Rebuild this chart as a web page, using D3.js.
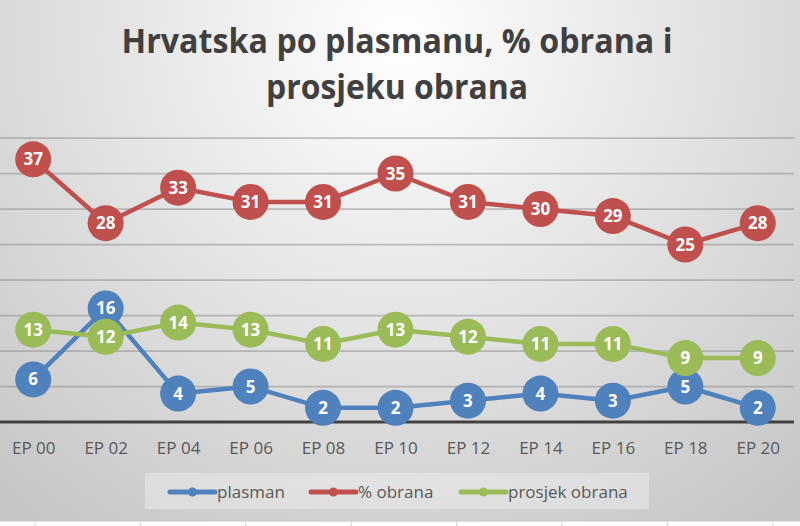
<!DOCTYPE html>
<html>
<head>
<meta charset="utf-8">
<script src="https://cdn.jsdelivr.net/npm/d3@7"></script>
<style>
	body { margin: 0; background: #fff; }
	svg text { font-family: "Open Sans", sans-serif; }
</style>
</head>
<body>
<svg id="chart" width="800" height="526"></svg>
<script>
// data
let categories = ['EP 00', 'EP 02', 'EP 04', 'EP 06', 'EP 08', 'EP 10', 'EP 12', 'EP 14', 'EP 16', 'EP 18', 'EP 20'];
let plasman = [6, 16, 4, 5, 2, 2, 3, 4, 3, 5, 2];
let obrana = [37, 28, 33, 31, 31, 35, 31, 30, 29, 25, 28];
let prosjekObrana = [13, 12, 14, 13, 11, 13, 12, 11, 11, 9, 9];
let seriesNames = ['plasman', '% obrana', 'prosjek obrana'];
let yTicks = [0, 5, 10, 15, 20, 25, 30, 35, 40];
let titleLines = ['Hrvatska po plasmanu, % obrana i', 'prosjeku obrana'];

let colors = ['#4f81bd', '#c0504d', '#9bbb59'];
let series = [plasman, obrana, prosjekObrana].map((vals, i) => ({
	name: seriesNames[i],
	color: colors[i],
	values: vals
}));

let W = 800, H = 526;
let svg = d3.select('svg#chart');

// background (excel style gradient)
let defs = svg.append('defs');
let grad = defs.append('radialGradient')
	.attr('id', 'bg')
	.attr('gradientUnits', 'userSpaceOnUse')
	.attr('cx', 400).attr('cy', 40).attr('r', 600);
grad.append('stop').attr('offset', '0%').attr('stop-color', '#ffffff');
grad.append('stop').attr('offset', '100%').attr('stop-color', '#c6c6c6');

svg.append('rect')
	.attr('width', W).attr('height', 521)
	.attr('fill', 'url(#bg)');

// spreadsheet strip below the chart
svg.append('rect').attr('y', 521).attr('width', W).attr('height', 5).attr('fill', '#ffffff');
svg.append('line').attr('x1', 0).attr('x2', W).attr('y1', 521).attr('y2', 521)
	.attr('stroke', '#c8c8c8').attr('stroke-width', 1);
svg.append('g').selectAll('line')
	.data(d3.range(35, W, 105.4))
	.join('line')
	.attr('x1', d => d).attr('x2', d => d)
	.attr('y1', 522).attr('y2', H)
	.attr('stroke', '#d4d4d4');

// title
svg.append('g').selectAll('text')
	.data(titleLines)
	.join('text')
	.attr('x', 397)
	.attr('y', (d, i) => 53 + i * 46)
	.attr('text-anchor', 'middle')
	.attr('font-size', 34)
	.attr('font-weight', 700)
	.attr('fill', '#404040')
	.attr('textLength', (d, i) => i == 0 ? 551 : 262)
	.attr('lengthAdjust', 'spacingAndGlyphs')
	.text(d => d);

// scales
let x = d3.scalePoint()
	.domain(categories)
	.range([-3, 794])
	.padding(0.5);
let y = d3.scaleLinear()
	.domain([0, 40])
	.range([422, 138]);

// gridlines
svg.append('g').attr('class', 'grid')
	.selectAll('line')
	.data(yTicks.filter(d => d > 0))
	.join('line')
	.attr('x1', x.range()[0]).attr('x2', x.range()[1])
	.attr('y1', d => y(d)).attr('y2', d => y(d))
	.attr('stroke', '#8a8a8a')
	.attr('stroke-opacity', 0.5)
	.attr('stroke-width', 1.75);

// x axis
let xAxis = svg.append('g')
	.attr('transform', 'translate(0,' + y(0) + ')')
	.call(d3.axisBottom(x).tickSize(0).tickPadding(20));
xAxis.select('.domain')
	.attr('d', 'M' + x.range()[0] + ',0H' + x.range()[1])
	.attr('stroke', '#404040')
	.attr('stroke-width', 3);
xAxis.selectAll('text')
	.attr('font-family', '"Open Sans", sans-serif')
	.attr('font-size', 17)
	.attr('fill', '#595959');

// series
let line = d3.line()
	.x((d, i) => x(categories[i]))
	.y(d => y(d));

let sg = svg.append('g').attr('class', 'series')
	.selectAll('g')
	.data(series)
	.join('g');

sg.append('path')
	.attr('d', d => line(d.values))
	.attr('fill', 'none')
	.attr('stroke', d => d.color)
	.attr('stroke-width', 4.5)
	.attr('stroke-linejoin', 'round');

sg.selectAll('circle')
	.data(d => d.values.map((v, i) => ({ v: v, i: i, color: d.color })))
	.join('circle')
	.attr('cx', d => x(categories[d.i]))
	.attr('cy', d => y(d.v))
	.attr('r', 18)
	.attr('fill', d => d.color);

// labels on top
svg.append('g').attr('class', 'labels')
	.selectAll('g')
	.data(series)
	.join('g')
	.selectAll('text')
	.data(d => d.values.map((v, i) => ({ v: v, i: i })))
	.join('text')
	.attr('x', d => x(categories[d.i]))
	.attr('y', d => y(d.v) + 6)
	.attr('text-anchor', 'middle')
	.attr('font-size', 17)
	.attr('font-weight', 700)
	.attr('fill', '#ffffff')
	.text(d => d.v);

// legend
let legend = svg.append('g').attr('class', 'legend');
legend.append('rect')
	.attr('x', 145).attr('y', 473)
	.attr('width', 504).attr('height', 36)
	.attr('fill', '#ffffff')
	.attr('fill-opacity', 0.3);

let legendX = [170, 311, 461];
let items = legend.selectAll('g.item')
	.data(series)
	.join('g')
	.attr('class', 'item')
	.attr('transform', (d, i) => 'translate(' + legendX[i] + ',492)');
items.append('line')
	.attr('x1', 0).attr('x2', 45)
	.attr('stroke', d => d.color)
	.attr('stroke-width', 5)
	.attr('stroke-linecap', 'round');
items.append('circle')
	.attr('cx', 22.5).attr('r', 4.5)
	.attr('fill', d => d.color);
items.append('text')
	.attr('x', 47)
	.attr('y', 6)
	.attr('font-size', 17)
	.attr('fill', '#595959')
	.text(d => d.name);
</script>
</body>
</html>
